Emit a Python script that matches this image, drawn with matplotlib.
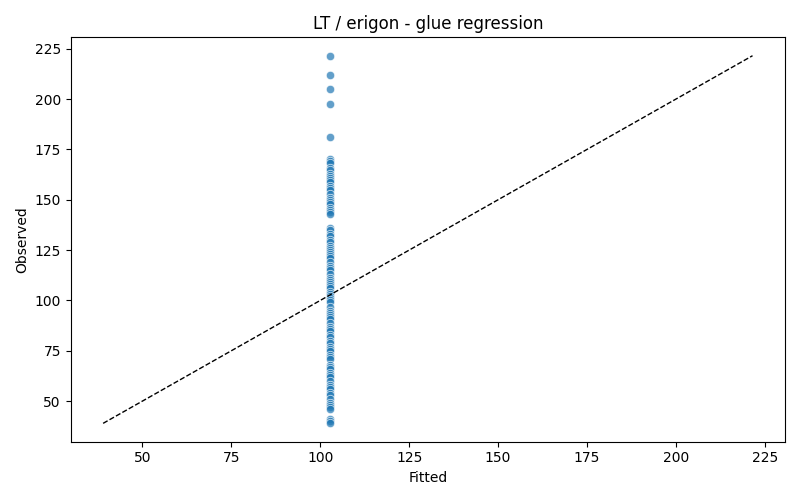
import numpy as np
import matplotlib
matplotlib.use('Agg')
import matplotlib.pyplot as plt

# fitted value is the same for every sample (intercept-only fit)
fitted_value = 102.7
observed = [221.5, 212, 205, 197.5, 181,
            170, 169, 168, 166, 165, 163, 162, 161, 160, 159, 157, 156, 155,
            153, 151, 150, 149, 148, 146, 145, 144, 143,
            136, 135, 133, 132, 130, 129, 127, 126, 125, 124, 123, 122, 121,
            119, 117, 116, 115, 113, 111, 110, 109, 108, 107, 106, 104, 103,
            102, 101, 100, 99, 97, 95, 94, 93, 92, 91, 89, 87, 86, 85, 83, 82,
            80, 79, 77, 76, 75, 73, 72, 71, 68, 67, 66, 64, 63, 62, 60, 58,
            57, 56, 54, 53, 51, 49, 48, 47, 46, 41, 40, 39]
fitted = [fitted_value] * len(observed)

fig, ax = plt.subplots(figsize=(8, 5), dpi=100)
ax.scatter(fitted, observed, s=36, color='#1f77b4', alpha=0.7,
           edgecolors='white', linewidths=0.6)

lo = min(min(observed), min(fitted))
hi = max(max(observed), max(fitted))
ax.plot([lo, hi], [lo, hi], '--', color='black', linewidth=1)

ax.set_xlabel('Fitted')
ax.set_ylabel('Observed')
ax.set_title('LT / erigon - glue regression')

plt.tight_layout()
plt.savefig('out.png', dpi=100)
plt.close()
